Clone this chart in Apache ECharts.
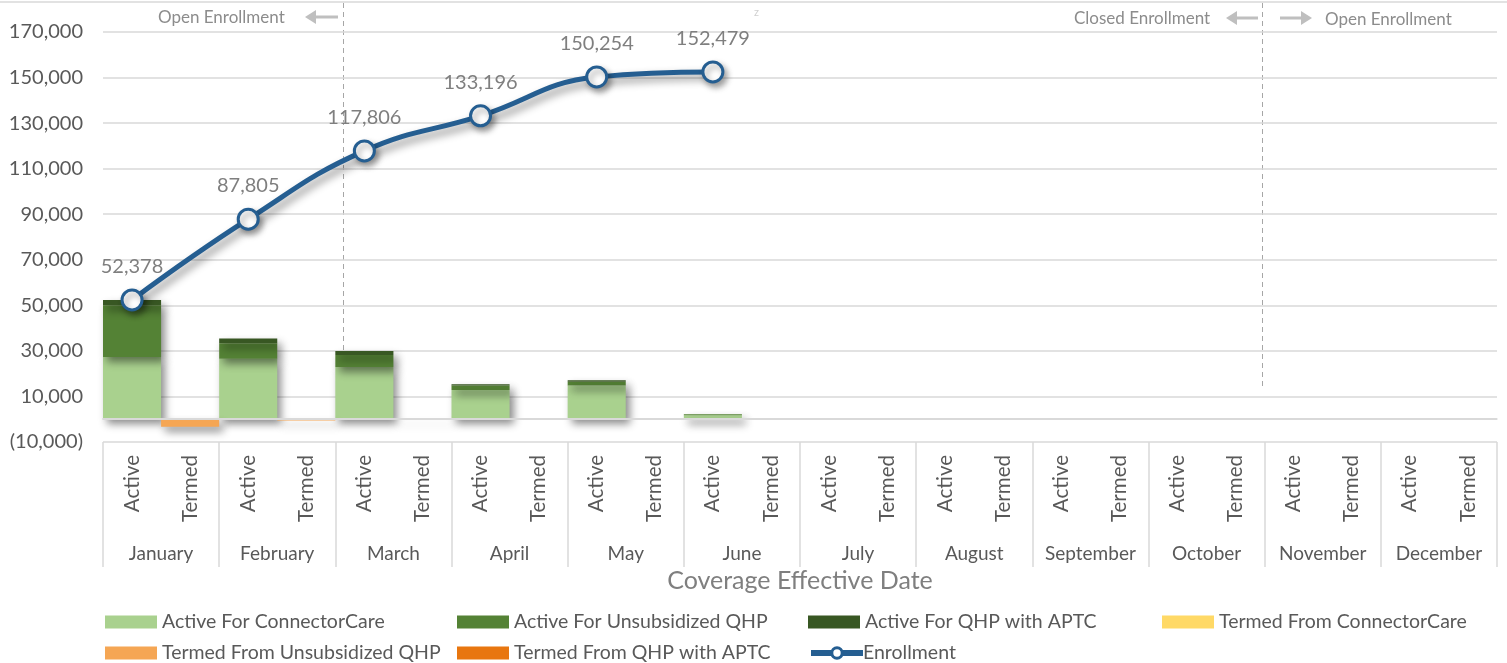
<!DOCTYPE html>
<html><head><meta charset="utf-8">
<script src="https://cdn.jsdelivr.net/npm/echarts@6/dist/echarts.min.js"></script>
<style>html,body{margin:0;padding:0;background:#fff}#c{width:1507px;height:663px}</style>
</head><body><div id="c"></div>
<script>
const months = ['January','February','March','April','May','June','July','August','September','October','November','December'];
const subCats = ['Active','Termed'];
const yTicks = [-10000, 170000, 20000];
// Active components (by month)
const activeConnectorCare = [27300, 26600, 22900, 12850, 14800, 1700, null, null, null, null, null, null];
const activeUnsubsidized  = [22700, 6750, 5300, 1950, 1650, 450, null, null, null, null, null, null];
const activeAPTC          = [2378, 2077, 1801, 590, 608, 75, null, null, null, null, null, null];
// Termed components (by month, negative)
const termedConnectorCare = [null, null, null, null, null, null, null, null, null, null, null, null];
const termedUnsubsidized  = [-3250, -600, -200, null, null, null, null, null, null, null, null, null];
const termedAPTC          = [null, null, null, null, null, null, null, null, null, null, null, null];
// Cumulative enrollment
const enrollment = [52378, 87805, 117806, 133196, 150254, 152479, null, null, null, null, null, null];

const FONT = 'Lato';
const cats = [];
months.forEach(m => subCats.forEach(s => cats.push(s)));
function onActive(arr){ const out=[]; arr.forEach(v=>{out.push(v==null?'-':v); out.push('-');}); return out; }
function onTermed(arr){ const out=[]; arr.forEach(v=>{out.push('-'); out.push(v==null?'-':v);}); return out; }
function lineData(arr){ const out=[]; arr.forEach(v=>{out.push(v==null?null:v); out.push(null);}); return out; }

const shadow = {shadowBlur:8, shadowOffsetX:4, shadowOffsetY:5, shadowColor:'rgba(0,0,0,0.45)'};
function bar(name, data, color){
  return {name, type:'bar', stack:'s', data, barCategoryGap:0, barGap:'-100%',
    itemStyle:Object.assign({color}, shadow), emphasis:{disabled:true}};
}
const series = [
  bar('Active For ConnectorCare', onActive(activeConnectorCare), '#A9D18E'),
  bar('Active For Unsubsidized QHP', onActive(activeUnsubsidized), '#548235'),
  bar('Active For QHP with APTC', onActive(activeAPTC), '#385723'),
  bar('Termed From ConnectorCare', onTermed(termedConnectorCare), '#FFD966'),
  bar('Termed From Unsubsidized QHP', onTermed(termedUnsubsidized), '#F5A654'),
  bar('Termed From QHP with APTC', onTermed(termedAPTC), '#E8760F'),
  {name:'Enrollment', type:'line', data:lineData(enrollment), connectNulls:true, smooth:0.45,
   symbol:'circle', symbolSize:20, z:5,
   lineStyle:Object.assign({color:'#255E91', width:5}, shadow),
   itemStyle:{color:'#ffffff', opacity:1, borderColor:'#255E91', borderWidth:3,
     shadowBlur:6, shadowOffsetX:3, shadowOffsetY:4, shadowColor:'rgba(0,0,0,0.35)'},
   label:{show:true, position:'top', distance:12, color:'#7F7F7F', fontFamily:FONT, fontSize:20,
     formatter:p=>p.value==null?'':p.value.toLocaleString('en-US')},
   emphasis:{disabled:true}}
];
series[0].markLine = {silent:true, symbol:'none', label:{show:false},
  lineStyle:{color:'#D9D9D9', width:2, type:'solid'}, data:[{yAxis:0}]};

const legendNames = ['Active For ConnectorCare','Active For Unsubsidized QHP','Active For QHP with APTC','Termed From ConnectorCare',
  'Termed From Unsubsidized QHP','Termed From QHP with APTC','Enrollment'];
const colX = [105, 457, 808, 1162];
const legends = legendNames.map((n,i)=>{
  const lg = {
    data:[n], left:colX[i%4], top: i<4 ? 612 : 643, padding:0, itemWidth:52, itemHeight:13, itemGap:5, selectedMode:false,
    textStyle:{color:'#595959', fontFamily:FONT, fontSize:19.5}
  };
  if (n==='Enrollment') { lg.lineStyle = {width:6, color:'#255E91'}; lg.itemStyle = {color:'#fff', borderColor:'#255E91', borderWidth:3}; lg.textStyle.padding=[0,0,0,-5]; }
  else lg.icon = 'rect';
  return lg;
});

function arrow(x1,x2,y){
  const dir = x2<x1 ? -1 : 1;
  return [
    {type:'line', shape:{x1:x1,y1:y,x2:x2-dir*8,y2:y}, style:{stroke:'#BFBFBF', lineWidth:3}},
    {type:'polygon', shape:{points:[[x2,y],[x2-dir*11,y-7],[x2-dir*11,y+7]]}, style:{fill:'#BFBFBF'}}
  ];
}
const gtext = (x,y,t,size,color)=>({type:'text', x, y, style:{text:t, fill:color, font:`${size}px ${FONT}`, textVerticalAlign:'middle'}});

const graphic = [
  {type:'line', shape:{x1:0,y1:2,x2:1507,y2:2}, style:{stroke:'#D9D9D9', lineWidth:1.5}},
  {type:'line', shape:{x1:343.5,y1:3,x2:343.5,y2:420}, style:{stroke:'#A6A6A6', lineWidth:1, lineDash:[5,4]}},
  {type:'line', shape:{x1:1262.5,y1:3,x2:1262.5,y2:390}, style:{stroke:'#A6A6A6', lineWidth:1, lineDash:[5,4]}},
  gtext(158,18,'Open Enrollment',17,'#8C8C8C'),
  ...arrow(338,305,17),
  gtext(1074,19,'Closed Enrollment',17,'#8C8C8C'),
  ...arrow(1258,1226,18),
  ...arrow(1280,1312,18),
  gtext(1325,20,'Open Enrollment',17,'#8C8C8C'),
  gtext(754,12,'z',11,'#D0D0D0')
];

const chart = echarts.init(document.getElementById('c'), null, {renderer:'canvas'});
chart.setOption({
  animation:false,
  backgroundColor:'#fff',
  grid:{left:103, right:10, top:32, bottom:221, containLabel:false},
  legend:legends,
  graphic,
  xAxis:[
    {type:'category', data:cats, position:'bottom',
     axisLine:{show:true, lineStyle:{color:'#D9D9D9', width:1.5}},
     axisTick:{show:false},
     axisLabel:{rotate:90, margin:13, color:'#595959', fontFamily:FONT, fontSize:20.5, interval:0}},
    {type:'category', data:months, position:'bottom', offset:0,
     axisLine:{show:false},
     axisTick:{show:true, length:125, lineStyle:{color:'#D9D9D9', width:1.5}},
     axisLabel:{margin:102, color:'#595959', fontFamily:FONT, fontSize:19, interval:0},
     name:'Coverage Effective Date', nameLocation:'middle', nameGap:126,
     nameTextStyle:{color:'#7F7F7F', fontFamily:FONT, fontSize:25}}
  ],
  yAxis:{type:'value', min:yTicks[0], max:yTicks[1], interval:yTicks[2],
    axisLine:{show:false}, axisTick:{show:false},
    splitLine:{lineStyle:{color:'#D9D9D9', width:1.5}},
    axisLabel:{margin:20, color:'#595959', fontFamily:FONT, fontSize:20,
      formatter:v=> v<0 ? '('+Math.abs(v).toLocaleString('en-US')+')' : v.toLocaleString('en-US')}},
  series
});
</script></body></html>
